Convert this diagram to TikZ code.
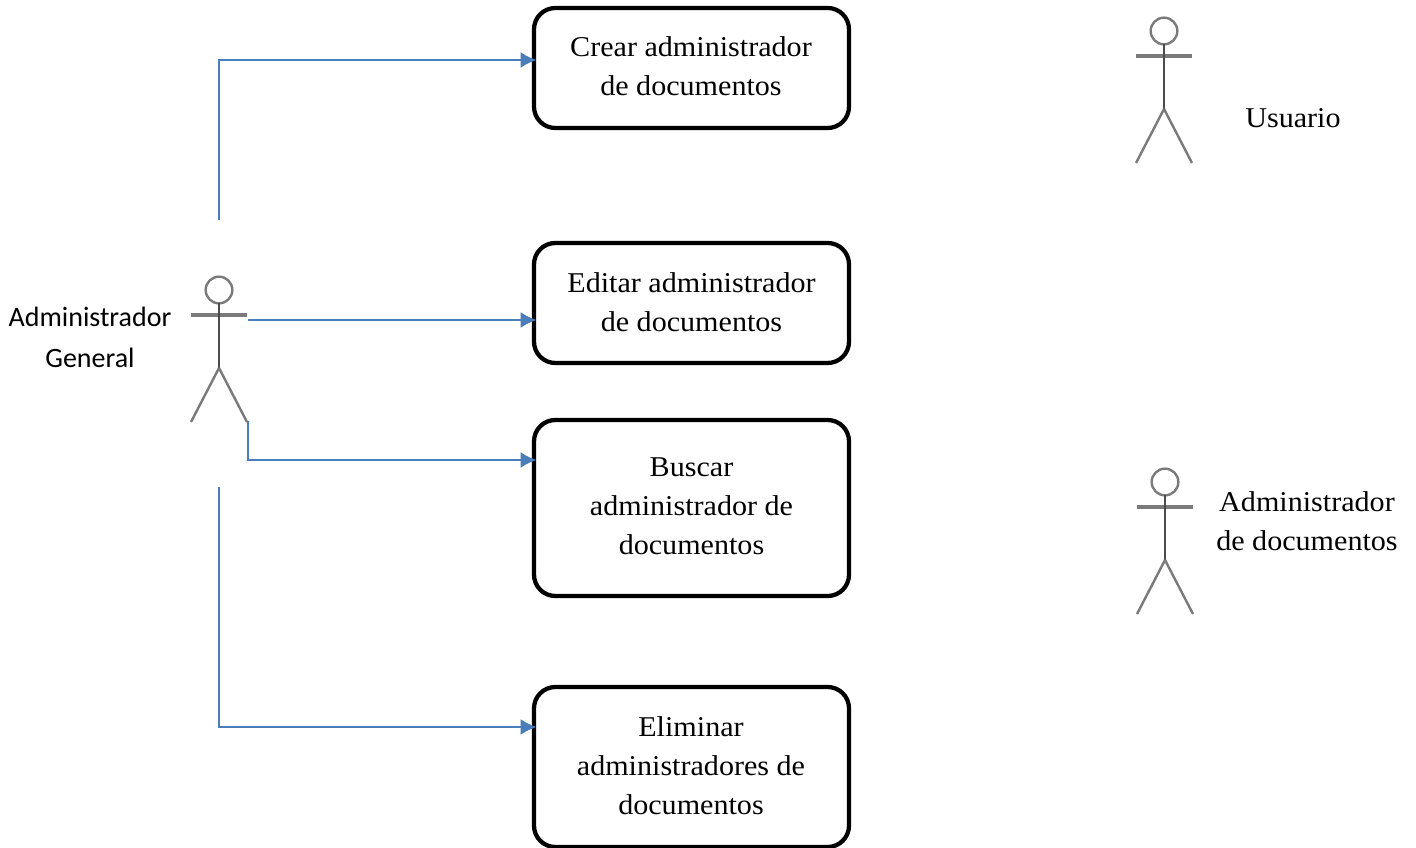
\documentclass[tikz,border=0pt]{standalone}
\usepackage{fontspec}
\setmainfont{Liberation Serif}
\newfontfamily\boxfont[FakeStretch=1.05]{Liberation Serif}
\newfontfamily\calfont{Carlito}
\usetikzlibrary{arrows.meta}
\definecolor{linkblue}{HTML}{4A7EBB}
\definecolor{actorgray}{HTML}{7A7A7A}
\tikzset{
  usecase/.style={draw=black,line width=3.2pt,rounded corners=16pt,fill=white,inner sep=0pt,outer sep=0pt,anchor=north west},
  link/.style={draw=linkblue,line width=1.7pt,shorten >=-2pt,-{Latex[length=12pt,width=12pt]}},
  actorline/.style={draw=actorgray,line width=1.8pt},
  actorarm/.style={draw=actorgray,line width=2.3pt},
  actorcore/.style={draw=black!70,line width=1.5pt},
  lbl/.style={align=center,inner sep=0pt,font=\boxfont\fontsize{21.5}{29.3}\selectfont},
  sanslbl/.style={align=center,inner sep=0pt,font=\calfont\fontsize{21}{30.5}\selectfont}
}
\newcommand{\actorfig}[3]{% x, y of head centre, name
  \begin{scope}[shift={(#1,#2)}]
    \node[circle,actorline,minimum size=20pt,inner sep=0pt,outer sep=0pt] (#3) at (0,0) {};
    \coordinate (#3hip) at (0,78);
    \draw[actorarm] (-28,25) coordinate (#3armL) -- (28,25) coordinate (#3armR);
    \draw[actorcore] (#3.south) -- (#3hip);
    \draw[actorline] (#3hip) -- (-28,132) coordinate (#3legL);
    \draw[actorline] (#3hip) -- (28,132) coordinate (#3legR);
  \end{scope}
}
\begin{document}
\begin{tikzpicture}[x=0.75pt,y=-0.75pt]
\useasboundingbox (0,0) rectangle (1416,848);
% use cases
\node[usecase,minimum width=236.25pt,minimum height=90pt] (crear) at (534,8) {};
\node[lbl] (crearT) at (691,66.5) {Crear administrador\\de documentos};
\node[usecase,minimum width=236.25pt,minimum height=90pt] (editar) at (534,243) {};
\node[lbl] (editarT) at (691.5,302) {Editar administrador\\de documentos};
\node[usecase,minimum width=236.25pt,minimum height=132pt] (buscar) at (534,420) {};
\node[lbl] (buscarT) at (691.5,506.5) {Buscar\\administrador de\\documentos};
\node[usecase,minimum width=236.25pt,minimum height=120pt] (eliminar) at (534,687) {};
\node[lbl] (eliminarT) at (691,766) {Eliminar\\administradores de\\documentos};
% actors
\actorfig{219}{290}{gen}
\actorfig{1164}{31}{usr}
\actorfig{1165}{482}{adm}
% labels
\node[sanslbl] (genT) at (90,337.5) {Administrador\\General};
\node[lbl] (usrT) at (1293,118) {Usuario};
\node[lbl] (admT) at (1307,521) {Administrador\\de documentos};
% connector ends
\coordinate (g1) at (219,220);
\coordinate (g2) at (248,320);
\coordinate (g3) at (248,421);
\coordinate (g4) at (219,487);
\draw[link] (g1) |- ([yshift=6pt]crear.west);
\draw[link] (g2) -- (g2 -| editar.west);
\draw[link] (g3) |- ([yshift=36pt]buscar.west);
\draw[link] (g4) |- ([yshift=30pt]eliminar.west);
\end{tikzpicture}
\end{document}
